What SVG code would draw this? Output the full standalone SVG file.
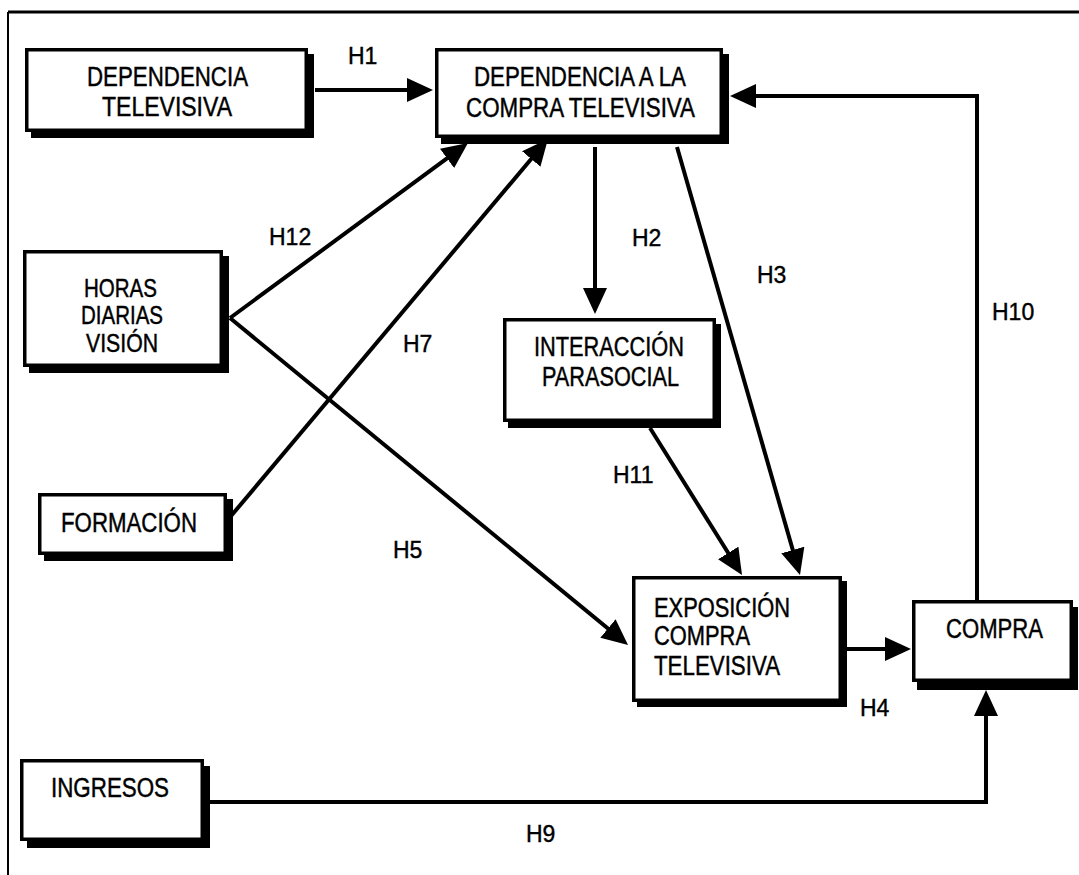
<svg xmlns="http://www.w3.org/2000/svg" width="1079" height="875" viewBox="0 0 1079 875">
  <defs>
    <marker id="arrow" viewBox="0 0 26 24" refX="13" refY="12" markerWidth="26" markerHeight="24" markerUnits="userSpaceOnUse" orient="auto">
      <path d="M0,0 L26,12 L0,24 Z" fill="#000"/>
    </marker>
  </defs>
  <style>
    .frame { stroke: #000; fill: none; }
    .shadow { fill: #000; }
    .box { fill: #fff; stroke: #000; stroke-width: 3.5; }
    .node { font-family: "Liberation Sans", Arial, sans-serif; font-size: 27px; fill: #000; stroke: #000; stroke-width: 0.45; }
    .tight { font-size: 25.5px; }
    .lbl { font-family: "Liberation Sans", Arial, sans-serif; font-size: 23px; fill: #000; stroke: #000; stroke-width: 0.4; }
    .edge { stroke: #000; stroke-width: 4; fill: none; marker-end: url(#arrow); }
  </style>

  <rect width="1079" height="875" fill="#fff"/>

  <!-- outer frame (top and left edges) -->
  <line class="frame" x1="8" y1="12" x2="1079" y2="12" stroke-width="3"/>
  <line class="frame" x1="8" y1="12" x2="8" y2="875" stroke-width="2"/>

  <!-- connectors -->
  <g id="connectors">
    <line class="edge" x1="315" y1="90" x2="420" y2="90"/>
    <path class="edge" d="M977,600 L977,96 L743,96"/>
    <line class="edge" x1="595" y1="147" x2="595" y2="301"/>
    <line class="edge" x1="230" y1="318" x2="457.5" y2="150.7"/>
    <line class="edge" x1="231" y1="516" x2="539.6" y2="149"/>
    <line class="edge" x1="230" y1="318" x2="618" y2="636.7"/>
    <line class="edge" x1="650" y1="428" x2="735.1" y2="564"/>
    <line class="edge" x1="677" y1="147" x2="796.4" y2="562.5"/>
    <line class="edge" x1="847" y1="649" x2="898" y2="649"/>
    <path class="edge" d="M204,802 L986,802 L986,703"/>
  </g>

  <!-- connector labels -->
  <g id="labels">
    <text class="lbl" x="348" y="64">H1</text>
    <text class="lbl" x="632" y="246">H2</text>
    <text class="lbl" x="757" y="283">H3</text>
    <text class="lbl" x="860" y="716">H4</text>
    <text class="lbl" x="393" y="558">H5</text>
    <text class="lbl" x="403" y="352">H7</text>
    <text class="lbl" x="526" y="842">H9</text>
    <text class="lbl" x="992" y="320">H10</text>
    <text class="lbl" x="613" y="483">H11</text>
    <text class="lbl" x="269" y="245">H12</text>
  </g>

  <g id="dependencia-televisiva">
    <rect class="shadow" x="31" y="54" width="283" height="84"/>
    <rect class="box" x="26.75" y="49.75" width="279.5" height="80.5"/>
    <text class="node" x="87" y="86" textLength="161" lengthAdjust="spacingAndGlyphs">DEPENDENCIA</text>
    <text class="node" x="102" y="116" textLength="130" lengthAdjust="spacingAndGlyphs">TELEVISIVA</text>
  </g>

  <g id="dependencia-compra">
    <rect class="shadow" x="441" y="54" width="288" height="90"/>
    <rect class="box" x="436.75" y="49.75" width="284.5" height="86.5"/>
    <text class="node" x="474" y="86" textLength="212" lengthAdjust="spacingAndGlyphs">DEPENDENCIA A LA</text>
    <text class="node" x="466" y="117" textLength="229" lengthAdjust="spacingAndGlyphs">COMPRA TELEVISIVA</text>
  </g>

  <g id="horas-diarias">
    <rect class="shadow" x="29" y="256" width="200" height="117"/>
    <rect class="box" x="24.75" y="251.75" width="196.5" height="113.5"/>
    <text class="node tight" x="84" y="297" textLength="73" lengthAdjust="spacingAndGlyphs">HORAS</text>
    <text class="node tight" x="81" y="324" textLength="82" lengthAdjust="spacingAndGlyphs">DIARIAS</text>
    <text class="node tight" x="86" y="352" textLength="72" lengthAdjust="spacingAndGlyphs">VISIÓN</text>
  </g>

  <g id="formacion">
    <rect class="shadow" x="44" y="499" width="189" height="62"/>
    <rect class="box" x="39.75" y="494.75" width="185.5" height="58.5"/>
    <text class="node" x="61" y="532" textLength="136" lengthAdjust="spacingAndGlyphs">FORMACIÓN</text>
  </g>

  <g id="interaccion-parasocial">
    <rect class="shadow" x="508" y="324" width="213" height="104"/>
    <rect class="box" x="504.75" y="319.75" width="209.5" height="100.5"/>
    <text class="node" x="534" y="356" textLength="150" lengthAdjust="spacingAndGlyphs">INTERACCIÓN</text>
    <text class="node" x="542" y="386" textLength="137" lengthAdjust="spacingAndGlyphs">PARASOCIAL</text>
  </g>

  <g id="exposicion-compra">
    <rect class="shadow" x="637" y="581" width="210" height="126"/>
    <rect class="box" x="633.75" y="577.75" width="206.5" height="122.5"/>
    <text class="node" x="654" y="617" textLength="136" lengthAdjust="spacingAndGlyphs">EXPOSICIÓN</text>
    <text class="node" x="654" y="645" textLength="96" lengthAdjust="spacingAndGlyphs">COMPRA</text>
    <text class="node" x="654" y="675" textLength="126" lengthAdjust="spacingAndGlyphs">TELEVISIVA</text>
  </g>

  <g id="compra">
    <rect class="shadow" x="917" y="607" width="161" height="83"/>
    <rect class="box" x="913.75" y="601.75" width="157.5" height="78.5"/>
    <text class="node" x="946" y="638" textLength="97" lengthAdjust="spacingAndGlyphs">COMPRA</text>
  </g>

  <g id="ingresos">
    <rect class="shadow" x="27" y="766" width="183" height="82"/>
    <rect class="box" x="21.75" y="760.75" width="180.5" height="78.5"/>
    <text class="node" x="51" y="797" textLength="118" lengthAdjust="spacingAndGlyphs">INGRESOS</text>
  </g>
</svg>
